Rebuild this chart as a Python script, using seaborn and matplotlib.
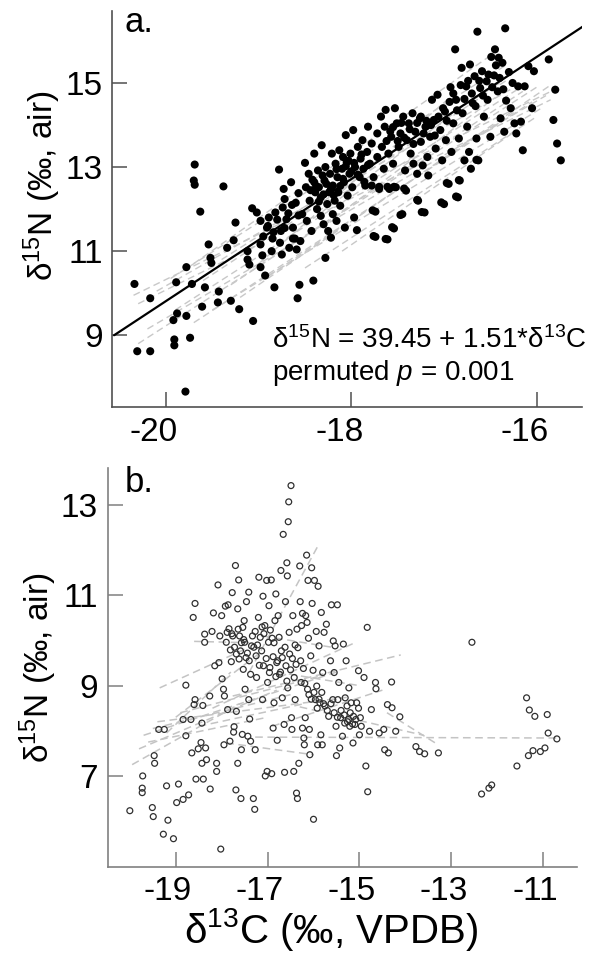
import numpy as np
import pandas as pd
import matplotlib
matplotlib.use("Agg")
import matplotlib.pyplot as plt
import matplotlib.transforms as mtransforms
import seaborn as sns

# panel a: consumer isotopes (filled dots)
a_points = [
    (-20.34, 10.22), (-20.17, 9.88), (-20.31, 8.62), (-20.17, 8.62), (-19.89, 10.26),
    (-19.92, 9.36), (-19.88, 9.52), (-19.91, 8.90), (-19.91, 8.76), (-19.78, 10.62),
    (-19.72, 10.22), (-19.78, 9.46), (-19.74, 8.94), (-19.79, 7.66), (-19.69, 13.06),
    (-19.70, 12.68), (-19.69, 12.58), (-19.63, 11.94), (-19.61, 9.68), (-19.58, 10.14),
    (-19.54, 11.16), (-19.52, 10.84), (-19.51, 10.72), (-19.43, 10.04), (-19.44, 9.78),
    (-19.38, 12.54), (-19.30, 9.82), (-19.34, 11.08), (-19.27, 11.26), (-19.25, 11.68),
    (-19.21, 9.62), (-19.12, 11.00), (-19.12, 10.80), (-19.10, 10.68), (-19.06, 9.34),
    (-19.07, 12.02), (-19.02, 11.92), (-18.98, 11.72), (-18.98, 11.16), (-18.96, 10.90),
    (-18.98, 10.62), (-18.93, 10.42), (-18.91, 11.56), (-18.89, 11.80), (-18.85, 11.30),
    (-18.83, 10.14), (-18.86, 11.00), (-18.82, 11.92), (-18.78, 12.94), (-18.76, 11.48),
    (-18.75, 10.92), (-18.74, 12.04), (-18.73, 12.48), (-18.72, 12.24), (-18.70, 11.76),
    (-18.67, 11.08), (-18.65, 12.64), (-18.64, 12.10), (-18.63, 11.56), (-18.61, 11.30),
    (-18.59, 11.04), (-18.57, 12.38), (-18.56, 10.20), (-18.58, 9.88), (-18.55, 11.24),
    (-18.53, 11.88), (-18.50, 13.10), (-18.49, 12.52), (-18.48, 11.72), (-18.46, 12.84),
    (-18.45, 12.20), (-18.43, 11.48), (-18.41, 10.30), (-18.40, 13.32), (-18.40, 12.64),
    (-18.39, 12.40), (-18.37, 12.00), (-18.36, 12.92), (-18.35, 12.52), (-18.33, 12.28),
    (-18.33, 11.84), (-18.32, 13.52), (-18.30, 11.64), (-18.29, 12.68), (-18.28, 13.00),
    (-18.28, 10.84), (-18.26, 12.12), (-18.25, 11.48), (-18.24, 12.40), (-18.23, 12.84),
    (-18.22, 11.32), (-18.21, 13.32), (-18.20, 12.56), (-18.20, 11.88), (-18.18, 12.20),
    (-18.17, 13.08), (-18.16, 11.72), (-18.15, 12.76), (-18.14, 12.40), (-18.13, 13.40),
    (-18.12, 12.08), (-18.10, 12.96), (-18.09, 13.24), (-18.08, 12.64), (-18.07, 11.56),
    (-18.06, 13.76), (-18.05, 13.12), (-18.04, 12.32), (-18.02, 12.84), (-18.01, 13.32),
    (-17.99, 12.52), (-17.98, 13.88), (-17.97, 11.80), (-17.96, 13.00), (-17.94, 11.50),
    (-17.93, 13.48), (-17.91, 12.76), (-17.90, 13.20), (-17.88, 13.64), (-17.87, 12.96),
    (-17.85, 12.56), (-17.83, 13.36), (-17.82, 13.96), (-17.80, 13.08), (-17.78, 13.56),
    (-17.76, 12.76), (-17.74, 11.94), (-17.74, 11.34), (-17.72, 13.80), (-17.72, 13.24),
    (-17.70, 12.48), (-17.68, 14.20), (-17.67, 13.48), (-17.65, 12.96), (-17.64, 13.96),
    (-17.63, 14.36), (-17.61, 11.28), (-17.60, 13.32), (-17.59, 12.48), (-17.57, 13.72),
    (-17.55, 13.08), (-17.54, 11.54), (-17.53, 14.40), (-17.52, 12.52), (-17.51, 14.04),
    (-17.49, 13.48), (-17.47, 13.80), (-17.45, 11.88), (-17.44, 14.20), (-17.42, 12.92),
    (-17.41, 12.44), (-17.40, 13.64), (-17.38, 14.04), (-17.36, 13.32), (-17.34, 14.28),
    (-17.33, 13.08), (-17.31, 13.84), (-17.29, 12.84), (-17.28, 12.20), (-17.26, 14.16),
    (-17.25, 13.60), (-17.23, 13.04), (-17.21, 11.92), (-17.20, 13.96), (-17.18, 13.24),
    (-17.17, 12.80), (-17.15, 13.72), (-17.13, 14.60), (-17.11, 14.12), (-17.09, 13.44),
    (-17.07, 14.72), (-17.04, 13.88), (-17.02, 13.16), (-17.00, 12.12), (-16.99, 14.32),
    (-16.98, 13.64), (-16.95, 12.60), (-16.93, 14.90), (-16.92, 13.36), (-16.90, 14.04),
    (-16.88, 15.80), (-16.87, 14.60), (-16.85, 12.28), (-16.84, 13.68), (-16.83, 12.68),
    (-16.81, 15.36), (-16.80, 14.28), (-16.78, 13.16), (-16.76, 14.92), (-16.75, 13.96),
    (-16.73, 13.36), (-16.72, 15.44), (-16.71, 12.96), (-16.69, 14.52), (-16.67, 15.16),
    (-16.65, 13.68), (-16.64, 16.22), (-16.63, 13.16), (-16.61, 14.88), (-16.59, 15.28),
    (-16.57, 14.20), (-16.54, 15.04), (-16.53, 14.60), (-16.50, 13.72), (-16.49, 15.62),
    (-16.46, 15.18), (-16.45, 15.80), (-16.42, 14.80), (-16.41, 15.60), (-16.39, 14.16),
    (-16.37, 15.48), (-16.35, 13.84), (-16.34, 16.30), (-16.33, 14.58), (-16.30, 15.26),
    (-16.28, 14.40), (-16.26, 15.00), (-16.24, 14.04), (-16.22, 13.80), (-16.20, 14.92),
    (-16.17, 14.08), (-16.15, 13.40), (-16.13, 14.92), (-16.09, 15.40), (-16.05, 14.40),
    (-16.03, 15.28), (-15.87, 15.56), (-15.80, 14.84), (-15.82, 14.12), (-15.78, 13.56),
    (-15.74, 13.16),
    (-17.78, 12.56), (-17.70, 12.53), (-17.61, 12.53), (-17.54, 12.53), (-17.43, 12.49),
    (-17.29, 12.22), (-17.24, 11.93), (-17.03, 12.16), (-16.97, 12.62), (-16.87, 12.30),
    (-16.84, 12.69), (-17.47, 11.86), (-17.56, 11.57), (-17.77, 11.97), (-17.76, 11.36),
    (-17.63, 11.29), (-16.65, 13.17),
    (-18.44, 12.45), (-18.38, 12.55), (-18.30, 12.35), (-18.27, 12.60), (-18.22, 12.48),
    (-18.19, 12.33), (-18.35, 12.18), (-18.42, 12.70), (-18.31, 12.80), (-18.16, 12.95),
    (-18.12, 12.55), (-18.06, 13.02), (-18.03, 13.15), (-18.00, 12.90), (-17.97, 13.10),
    (-18.09, 12.72), (-17.93, 12.82), (-17.89, 13.30), (-17.86, 12.65), (-17.82, 13.05),
    (-17.62, 13.62), (-17.58, 13.85), (-17.55, 13.95), (-17.50, 13.62), (-17.46, 14.05),
    (-17.43, 13.70), (-17.37, 13.90), (-17.33, 13.55), (-17.29, 14.05), (-17.25, 14.20),
    (-17.22, 13.80), (-17.19, 14.10), (-17.14, 14.00), (-17.10, 13.75), (-17.06, 14.20),
    (-17.01, 14.40), (-16.97, 14.10), (-16.94, 14.55), (-16.90, 14.75), (-16.86, 14.35),
    (-16.82, 14.95), (-16.78, 14.62), (-16.74, 15.05), (-16.70, 14.75), (-16.66, 14.45),
    (-16.62, 15.05), (-16.58, 14.70), (-16.52, 15.20), (-16.48, 14.90), (-16.44, 15.42),
    (-16.40, 15.12), (-16.36, 14.85),
    (-18.95, 11.35), (-18.90, 11.60), (-18.84, 11.45), (-18.80, 11.75), (-18.77, 11.20),
    (-18.72, 11.55), (-18.68, 11.90), (-18.63, 11.30), (-18.60, 12.15), (-18.57, 11.85),
]

# panel a: overall fit (drawn line ends) and per-group fits (grey dashed)
a_fit_x = [-20.56, -15.49]
a_fit_y = [9.00, 16.36]
a_grp_x0 = [-20.35, -20.30, -20.30, -20.20, -20.10, -19.95, -19.90, -19.80, -19.70, -19.60,
            -19.50, -19.40, -19.30, -19.20, -19.00, -18.90, -18.70, -18.50, -18.30, -18.10]
a_grp_y0 = [9.95, 9.75, 8.80, 9.15, 10.05, 10.35, 9.60, 10.55, 9.30, 10.30,
            9.60, 10.80, 10.20, 9.90, 10.70, 10.40, 11.30, 10.60, 11.60, 11.00]
a_grp_x1 = [-15.80, -15.85, -16.00, -15.90, -16.20, -16.35, -16.10, -16.50, -16.05, -16.30,
            -15.95, -16.40, -16.15, -15.85, -16.60, -16.25, -16.70, -16.00, -16.45, -16.20]
a_grp_y1 = [14.85, 14.60, 14.90, 14.70, 14.95, 15.40, 15.00, 15.65, 14.55, 15.10,
            14.40, 15.00, 14.80, 14.95, 15.30, 14.30, 14.60, 14.20, 14.65, 13.90]

# panel b: prey isotopes (open circles)
b_points = [
    (-20.00, 6.23), (-19.72, 7.00), (-19.73, 6.73), (-19.73, 6.63), (-19.51, 6.30),
    (-19.49, 6.10), (-19.47, 7.45), (-19.46, 7.28), (-19.37, 8.03), (-19.25, 8.03),
    (-19.27, 5.71), (-19.20, 6.78), (-19.17, 6.02), (-19.05, 5.61), (-18.98, 6.41),
    (-18.94, 6.82), (-18.84, 6.48), (-18.78, 9.01), (-18.78, 7.89), (-18.84, 8.25),
    (-18.72, 6.58), (-18.67, 8.25), (-18.65, 7.51), (-18.62, 10.51), (-18.58, 10.82),
    (-18.60, 8.58), (-18.58, 8.69), (-18.56, 6.93), (-18.51, 7.60), (-18.45, 7.74),
    (-18.43, 7.28), (-18.43, 8.17), (-18.41, 8.56), (-18.40, 6.93), (-18.37, 10.14),
    (-18.37, 9.96), (-18.35, 7.62), (-18.33, 7.36), (-18.26, 8.77), (-18.25, 6.71),
    (-18.21, 10.20), (-18.18, 10.61), (-18.15, 9.44), (-18.11, 7.28), (-18.11, 7.10),
    (-18.08, 11.23), (-18.06, 9.51), (-18.04, 10.10), (-18.02, 5.38), (-18.00, 10.55),
    (-17.99, 9.15), (-17.96, 8.92), (-17.94, 8.77), (-17.95, 7.69), (-17.92, 10.76),
    (-17.90, 9.96), (-17.88, 10.18), (-17.87, 8.47), (-17.86, 10.79), (-17.84, 10.26),
    (-17.82, 7.77), (-17.81, 9.79), (-17.79, 9.53), (-17.77, 11.06), (-17.76, 10.10),
    (-17.74, 7.97), (-17.73, 8.09), (-17.70, 11.66), (-17.68, 8.43), (-17.69, 6.69),
    (-17.65, 7.28), (-17.65, 10.70), (-17.63, 11.34), (-17.62, 9.59), (-17.61, 10.10),
    (-17.59, 9.77), (-17.58, 6.50), (-17.57, 7.58), (-17.55, 7.92), (-17.54, 10.29),
    (-17.53, 9.36), (-17.51, 10.44), (-17.50, 9.96), (-17.49, 8.92), (-17.47, 9.62),
    (-17.46, 10.86), (-17.43, 7.88), (-17.41, 11.07), (-17.41, 8.69), (-17.39, 8.26),
    (-17.37, 9.25), (-17.37, 7.77), (-17.35, 9.88), (-17.33, 10.10), (-17.31, 6.50),
    (-17.28, 6.26), (-17.27, 7.58), (-17.25, 9.66), (-17.24, 9.18), (-17.20, 10.51),
    (-17.19, 11.40), (-17.16, 10.07), (-17.13, 9.77), (-17.11, 8.69), (-17.10, 10.98),
    (-17.09, 9.44), (-17.06, 10.33), (-17.05, 7.00), (-17.02, 11.33), (-17.01, 7.10),
    (-17.00, 9.07), (-16.98, 9.96), (-16.97, 10.77), (-16.96, 9.29), (-16.94, 10.23),
    (-16.92, 11.34), (-16.91, 7.05), (-16.88, 8.06), (-16.88, 9.64), (-16.86, 8.62),
    (-16.84, 10.44), (-16.82, 11.03), (-16.80, 9.51), (-16.79, 7.79), (-16.77, 10.55),
    (-16.75, 10.07), (-16.74, 9.25), (-16.71, 11.55), (-16.70, 9.77), (-16.68, 8.73),
    (-16.66, 12.35), (-16.64, 8.14), (-16.63, 7.08), (-16.61, 10.86), (-16.60, 9.44),
    (-16.58, 11.72), (-16.57, 11.43), (-16.56, 8.95), (-16.55, 12.63), (-16.54, 13.07),
    (-16.53, 10.18), (-16.52, 9.70), (-16.49, 13.43), (-16.48, 8.29), (-16.47, 8.03),
    (-16.45, 10.55), (-16.43, 7.10), (-16.42, 9.18), (-16.40, 8.69), (-16.38, 9.47),
    (-16.37, 6.62), (-16.35, 6.50), (-16.34, 9.84), (-16.32, 7.28), (-16.30, 11.65),
    (-16.29, 10.86), (-16.27, 9.07), (-16.26, 10.33), (-16.24, 8.06), (-16.22, 9.38),
    (-16.21, 7.84), (-16.20, 7.69), (-16.18, 8.29), (-16.17, 10.55), (-16.15, 11.89),
    (-16.13, 8.92), (-16.12, 11.33), (-16.11, 10.05), (-16.09, 8.03), (-16.08, 7.47),
    (-16.06, 9.66), (-16.04, 11.61), (-16.03, 10.82), (-16.01, 9.34), (-16.00, 6.04),
    (-15.98, 11.33), (-15.96, 8.69), (-15.94, 10.20), (-15.93, 8.99), (-15.91, 7.69),
    (-15.90, 11.20), (-15.88, 9.88), (-15.86, 8.62), (-15.84, 7.91), (-15.83, 10.62),
    (-15.81, 7.69), (-15.80, 9.29), (-15.77, 10.18), (-15.75, 8.55), (-15.72, 10.36),
    (-15.67, 8.32), (-15.63, 9.55), (-15.61, 10.79), (-15.58, 8.69), (-15.57, 9.99),
    (-15.55, 9.29), (-15.53, 9.88), (-15.51, 8.10), (-15.50, 7.45), (-15.48, 10.79),
    (-15.47, 8.69), (-15.45, 9.07), (-15.43, 7.62), (-15.41, 8.29), (-15.37, 7.88),
    (-15.35, 9.92), (-15.32, 8.17), (-15.31, 8.73), (-15.29, 9.55), (-15.27, 8.55),
    (-15.24, 8.25), (-15.23, 8.95), (-15.21, 8.10), (-15.18, 8.62), (-15.14, 7.73),
    (-15.13, 8.32), (-15.10, 8.14), (-15.06, 8.62), (-15.02, 9.33), (-15.00, 7.91),
    (-14.98, 8.29), (-14.96, 8.10), (-14.90, 9.18), (-14.86, 7.22), (-14.83, 10.29),
    (-14.82, 6.65), (-14.78, 7.99), (-14.74, 8.47), (-14.65, 9.07), (-14.64, 8.93),
    (-14.57, 7.95), (-14.47, 8.03), (-14.45, 7.58), (-14.37, 7.51), (-14.39, 8.58),
    (-14.30, 9.08), (-14.29, 8.51), (-14.21, 7.99), (-14.12, 8.31), (-13.77, 7.65),
    (-13.69, 7.54), (-13.58, 7.49), (-13.28, 7.51), (-12.55, 9.96), (-12.34, 6.60),
    (-12.18, 6.73), (-12.12, 6.80), (-11.57, 7.22), (-11.36, 8.73), (-11.30, 8.46),
    (-11.18, 8.32), (-11.32, 7.45), (-11.22, 7.56), (-11.06, 7.54), (-10.96, 7.62),
    (-10.91, 8.36), (-10.89, 7.95), (-10.70, 7.82),
    (-17.78, 10.15), (-17.72, 9.85), (-17.68, 9.70), (-17.64, 10.25), (-17.57, 9.95),
    (-17.52, 10.02), (-17.44, 9.72), (-17.40, 9.55), (-17.30, 9.85), (-17.27, 10.20),
    (-17.22, 9.90), (-17.18, 9.45), (-17.12, 10.30), (-17.08, 10.15), (-17.03, 9.60),
    (-16.95, 9.40), (-16.90, 10.05), (-16.86, 9.95), (-16.82, 9.20), (-16.78, 9.55),
    (-16.72, 9.30), (-16.68, 9.62), (-16.62, 9.85), (-16.58, 9.10), (-16.50, 9.35),
    (-16.46, 9.60), (-16.40, 9.90), (-16.36, 10.25), (-16.28, 9.55), (-16.24, 10.60),
    (-16.19, 9.05), (-16.14, 10.40), (-16.10, 8.80), (-16.05, 8.70), (-15.99, 8.85),
    (-15.92, 8.50), (-15.88, 8.70), (-15.82, 8.85), (-15.78, 8.60), (-15.70, 8.45),
    (-15.62, 8.60), (-15.55, 8.40), (-15.48, 8.30), (-15.40, 8.45), (-15.33, 8.35),
    (-15.26, 8.20), (-15.20, 8.40), (-15.15, 8.15), (-15.08, 8.25), (-15.02, 8.50),
]

b_grp_x0 = [-19.95, -19.80, -19.70, -19.60, -19.50, -19.40, -19.35, -19.20, -19.00, -18.60, -18.90,
            -17.40, -17.76, -18.20, -17.27, -17.90, -16.30, -14.40, -16.80, -17.10, -16.90, -18.50]
b_grp_y0 = [7.25, 7.60, 7.90, 7.75, 8.05, 8.20, 8.95, 7.95, 8.30, 9.98, 8.40,
            9.30, 8.77, 8.50, 7.86, 7.73, 8.53, 8.40, 9.30, 10.10, 8.10, 8.10]
b_grp_x1 = [-17.60, -16.80, -15.50, -17.00, -16.50, -15.20, -17.40, -17.80, -17.20, -17.40, -15.90,
            -15.90, -14.10, -15.10, -10.70, -16.00, -13.60, -13.30, -15.00, -15.60, -14.50, -16.20]
b_grp_y1 = [8.60, 8.90, 9.30, 8.30, 8.80, 8.75, 9.85, 9.30, 9.70, 9.95, 9.20,
            12.10, 9.68, 9.95, 7.84, 7.47, 7.90, 7.70, 9.00, 9.85, 8.90, 8.60]


def seg_frame(x0, y0, x1, y1):
    rows = []
    for i in range(len(x0)):
        rows.append({"grp": i, "x": x0[i], "y": y0[i]})
        rows.append({"grp": i, "x": x1[i], "y": y1[i]})
    return pd.DataFrame(rows)


sns.set_style("white")
plt.rcParams["font.family"] = ["Liberation Sans", "DejaVu Sans"]
plt.rcParams["mathtext.fontset"] = "custom"
plt.rcParams["mathtext.rm"] = "Liberation Sans"
plt.rcParams["mathtext.it"] = "Liberation Sans:italic"
plt.rcParams["axes.unicode_minus"] = False
plt.rcParams["text.color"] = "black"
plt.rcParams["axes.labelcolor"] = "black"

fig = plt.figure(figsize=(5.89, 9.58), dpi=100)
ax_a = fig.add_axes([0.191, 0.575, 0.797, 0.413])
ax_b = fig.add_axes([0.183, 0.0953, 0.796, 0.4162])

# ---- panel a
df_a = pd.DataFrame(a_points, columns=["d13C", "d15N"])
sns.lineplot(data=seg_frame(a_grp_x0, a_grp_y0, a_grp_x1, a_grp_y1), x="x", y="y",
             units="grp", estimator=None, color="#c8c8c8", lw=1.0,
             dashes=False, ax=ax_a, linestyle=(0, (5, 3)))
sns.scatterplot(data=df_a, x="d13C", y="d15N", color="black", s=34,
                edgecolor="none", ax=ax_a, zorder=3)
sns.lineplot(x=a_fit_x, y=a_fit_y, color="black", lw=1.6, ax=ax_a, zorder=4)

ax_a.set_xlim(-20.577, -15.512)
ax_a.set_ylim(7.29, 16.70)
ax_a.set_xticks([-20, -18, -16])
ax_a.set_yticks([9, 11, 13, 15])
ax_a.set_xlabel("")
ax_a.set_ylabel("δ$\\mathregular{^{15}}$N (‰, air)", fontsize=24)
ax_a.yaxis.set_label_coords(-0.105, 0.56)
ax_a.text(0.026, 0.9487, "a.", transform=ax_a.transAxes, fontsize=25, va="baseline")
ax_a.text(0.3397, 0.1485, "δ$\\mathregular{^{15}}$N = 39.45 + 1.51*δ$\\mathregular{^{13}}$C",
          transform=ax_a.transAxes, fontsize=20, va="baseline")
ax_a.text(0.3397, 0.068, "permuted $\\mathit{p}$ = 0.001",
          transform=ax_a.transAxes, fontsize=20, va="baseline")

# ---- panel b
df_b = pd.DataFrame(b_points, columns=["d13C", "d15N"])
sns.lineplot(data=seg_frame(b_grp_x0, b_grp_y0, b_grp_x1, b_grp_y1), x="x", y="y",
             units="grp", estimator=None, color="#c4c4c4", lw=1.1,
             dashes=False, ax=ax_b, linestyle=(0, (5, 3)))
sns.scatterplot(data=df_b, x="d13C", y="d15N", s=18, facecolor="none",
                edgecolor="#303030", linewidth=0.9, ax=ax_b, zorder=3)

ax_b.set_xlim(-20.48, -10.27)
ax_b.set_ylim(4.99, 13.82)
ax_b.set_xticks([-19, -17, -15, -13, -11])
ax_b.set_yticks([7, 9, 11, 13])
ax_b.set_xlabel("δ$\\mathregular{^{13}}$C (‰, VPDB)", fontsize=29)
ax_b.xaxis.set_label_coords(0.476, -0.098)
ax_b.xaxis.label.set_va("top")
ax_b.set_ylabel("δ$\\mathregular{^{15}}$N (‰, air)", fontsize=24)
ax_b.yaxis.set_label_coords(-0.105, 0.50)
ax_b.text(0.037, 0.941, "b.", transform=ax_b.transAxes, fontsize=25, va="baseline")

for ax, col, shift in [(ax_a, "#505050", -12), (ax_b, "#808080", -8)]:
    sns.despine(ax=ax)
    for side in ["left", "bottom"]:
        ax.spines[side].set_color(col)
        ax.spines[side].set_linewidth(1.2)
    ax.tick_params(bottom=True, left=True, direction="in", length=11, width=1.1,
                   color=col, labelsize=24, labelcolor="black", pad=7)
    # x tick labels sit a little left of their tick marks in the original
    offset = mtransforms.ScaledTranslation(shift / 100, 0, fig.dpi_scale_trans)
    for lab in ax.get_xticklabels():
        lab.set_transform(lab.get_transform() + offset)

fig.savefig("out.png", dpi=100)
